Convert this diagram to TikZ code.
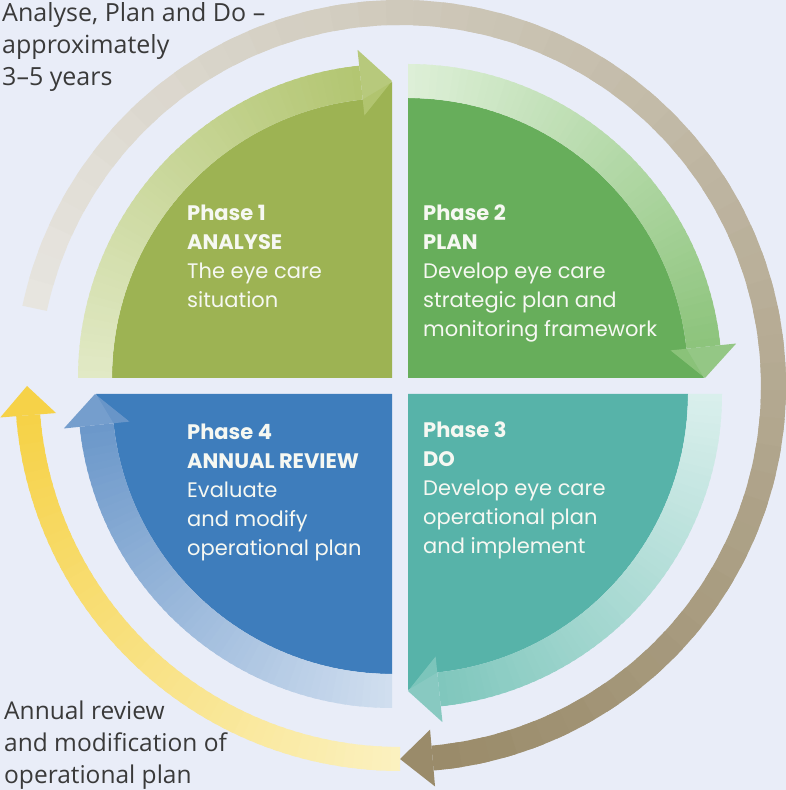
\documentclass[tikz,border=0pt]{standalone}
\usepackage{fontspec}
\newfontfamily\qfont{Poppins}
\newfontfamily\labfont{Open Sans}
\definecolor{bgc}{HTML}{E9EDF8}
\definecolor{anaF}{HTML}{9DB353}
\definecolor{anaA}{HTML}{E1E9C5}
\definecolor{anaB}{HTML}{B3C672}
\definecolor{plaF}{HTML}{67AE5B}
\definecolor{plaA}{HTML}{DDEFD7}
\definecolor{plaB}{HTML}{8DC47C}
\definecolor{doF}{HTML}{57B3A9}
\definecolor{doA}{HTML}{D9EFEC}
\definecolor{doB}{HTML}{80C7BD}
\definecolor{revF}{HTML}{3E7DBC}
\definecolor{revA}{HTML}{D0DEEF}
\definecolor{revB}{HTML}{6C98CA}
\definecolor{brA}{HTML}{E7E5DF}
\definecolor{brB}{HTML}{9A8B6A}
\definecolor{yeA}{HTML}{FBF1BF}
\definecolor{yeB}{HTML}{F6D248}
\definecolor{labc}{HTML}{3A3A3A}
\definecolor{qtc}{HTML}{F6F8F2}
% gradient band: cx, cy, r1, r2, start angle, end angle, colour A (tail), colour B (head)
\newcommand\gradband[8]{%
  \foreach \k in {0,...,59}{%
    \pgfmathsetmacro\aa{#5+(#6-#5)*\k/60}%
    \pgfmathsetmacro\ab{#5+(#6-#5)*min(\k+1.5,60)/60}%
    \pgfmathtruncatemacro\pp{round(\k*100/59)}%
    \fill[#8!\pp!#7,shift={(#1,#2)}] (\aa:#3pt) arc[start angle=\aa,end angle=\ab,radius=#3pt]
      -- (\ab:#4pt) arc[start angle=\ab,end angle=\aa,radius=#4pt] -- cycle;
  }}
% arrow head: cx, cy, base angle, tip angle, r in, r out, r tip, options
\newcommand\ahead[8]{%
  \fill[#8,shift={(#1,#2)}] (#3:#5pt) -- (#4:#7pt) -- (#3:#6pt) -- cycle;}
\tikzset{
  qtext/.style={font=\qfont\fontsize{21}{29}\selectfont, text=qtc, align=left, inner sep=0pt, anchor=north west},
  lab/.style={font=\labfont\fontsize{25}{32}\selectfont, text=labc, align=left, inner sep=0pt, anchor=north west},
  labb/.style={lab, font=\labfont\fontsize{24.5}{32}\selectfont}
}
\begin{document}
\begin{tikzpicture}[x=1pt,y=1pt]
\useasboundingbox (0,0) rectangle (786,790);
\fill[bgc] (0,0) rectangle (786,790);
% quadrant fills
\fill[anaF,shift={(392,412)}] (0,0) -- (180:280pt) arc[start angle=180,end angle=96,radius=280pt] -- (90:296pt) -- cycle;
\fill[plaF,shift={(408,412)}] (0,0) -- (90:280pt) arc[start angle=90,end angle=6,radius=280pt] -- (0:296pt) -- cycle;
\fill[doF,shift={(408,396)}] (0,0) -- (0:280pt) arc[start angle=0,end angle=-84,radius=280pt] -- (-90:296pt) -- cycle;
\fill[revF,shift={(392,396)}] (0,0) -- (-90:280pt) arc[start angle=-90,end angle=-174,radius=280pt] -- (-180:296pt) -- cycle;
% quadrant bands
\gradband{392}{412}{280}{314}{180}{96}{anaA}{anaB}
\ahead{392}{412}{96}{90}{264}{330}{297}{anaB,opacity=0.92}
\gradband{408}{412}{280}{314}{90}{6}{plaA}{plaB}
\ahead{408}{412}{6}{0}{264}{330}{297}{plaB,opacity=0.92}
\gradband{408}{396}{280}{314}{0}{-84}{doA}{doB}
\ahead{408}{396}{-84}{-90}{264}{330}{297}{doB,opacity=0.92}
\gradband{392}{396}{280}{314}{-90}{-174}{revA}{revB}
\ahead{392}{396}{-174}{-180}{264}{330}{297}{revB,opacity=0.92}
% outer arrows
\gradband{400}{404}{361}{386}{168}{-85}{brA}{brB}
\ahead{400}{404}{-85}{-90}{345}{402}{373}{brB}
\gradband{400}{404}{361}{385}{270}{184.5}{yeA}{yeB}
\ahead{400}{404}{184.5}{180}{345}{401}{373}{yeB}
% texts
\node[qtext] (p1) at (187,585) {\textbf{Phase 1}\\\textbf{ANALYSE}\\The eye care\\situation};
\node[qtext] (p2) at (423,585) {\textbf{Phase 2}\\\textbf{PLAN}\\Develop eye care\\strategic plan and\\monitoring framework};
\node[qtext] (p3) at (423,368) {\textbf{Phase 3}\\\textbf{DO}\\Develop eye care\\operational plan\\and implement};
\node[qtext] (p4) at (187,366) {\textbf{Phase 4}\\\textbf{ANNUAL REVIEW}\\Evaluate\\and modify\\operational plan};
\node[lab] (l1) at (2,788) {Analyse, Plan and Do –\\approximately\\3–5 years};
\node[labb] (l2) at (4,89) {Annual review\\and modification of\\operational plan};
\end{tikzpicture}
\end{document}
